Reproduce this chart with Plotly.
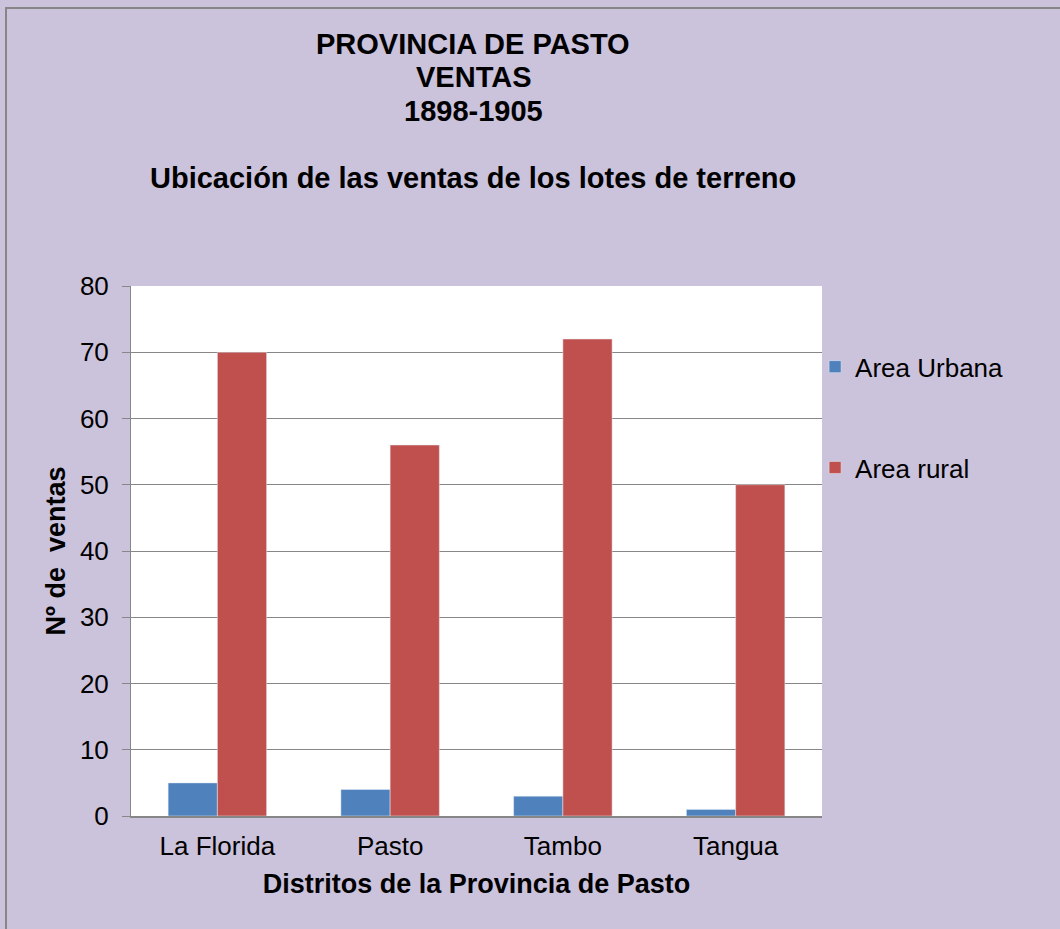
import plotly.graph_objects as go

distritos = ["La Florida", "Pasto", "Tambo", "Tangua"]
urbana = [5, 4, 3, 1]
rural = [70, 56, 72, 50]

y_ticks = [0, 10, 20, 30, 40, 50, 60, 70, 80]

bg = "#CBC2DB"
grid = "#878787"
font = "Liberation Sans, Arial, sans-serif"

fig = go.Figure()
fig.add_trace(go.Bar(
    x=distritos, y=urbana, name="Area Urbana",
    marker=dict(color="#4F81BD"), legendgroup="u"
))
fig.add_trace(go.Bar(
    x=distritos, y=rural, name="Area rural",
    marker=dict(color="#C0504D"), legendgroup="r"
))

# plot area in px: x 131..822, y 286..816
fig.update_layout(
    width=1060, height=929,
    margin=dict(l=131, r=238, t=286, b=113),
    paper_bgcolor=bg, plot_bgcolor="white",
    font=dict(family=font, size=26, color="black"),
    barmode="group", bargap=0.43, bargroupgap=0,
    showlegend=True,
    legend=dict(
        x=0.99, xanchor="left", y=0.892, yanchor="top",
        bgcolor="rgba(0,0,0,0)", font=dict(size=26),
        tracegroupgap=64, traceorder="grouped"
    ),
)

fig.update_yaxes(
    range=[0, 80], tickvals=y_ticks, showgrid=True, gridcolor=grid, gridwidth=1,
    showline=True, linecolor=grid, linewidth=1,
    ticks="outside", ticklen=8, tickcolor=grid, ticklabelstandoff=8,
    zeroline=False,
    title=dict(text="<b>Nº de  ventas</b>", font=dict(size=27), standoff=6),
)
fig.update_xaxes(
    showline=True, linecolor=grid, linewidth=2, ticks="", ticklabelstandoff=6,
    title=dict(text="<b>Distritos de la Provincia de Pasto</b>", font=dict(size=27), standoff=14),
)

titles = [
    ("PROVINCIA DE PASTO", 44),
    ("VENTAS", 77),
    ("1898-1905", 111),
    ("Ubicación de las ventas de los lotes de terreno", 178),
]
for txt, py in titles:
    fig.add_annotation(
        text="<b>" + txt + "</b>", xref="paper", yref="paper",
        x=(473 - 131) / 691, y=(816 - py) / 530,
        xanchor="center", yanchor="middle", showarrow=False,
        font=dict(size=29, family=font),
    )

# outer chart border (only top and left are visible in the frame)
fig.add_shape(
    type="rect", xref="paper", yref="paper",
    x0=(6 - 131) / 691, x1=2, y0=-1, y1=(816 - 8) / 530,
    line=dict(color="#868686", width=2), layer="below"
)

fig.write_html(
    "out.html",
    config={"displayModeBar": False},
    post_script="document.body.style.margin='0px';document.body.style.overflow='hidden';",
)
